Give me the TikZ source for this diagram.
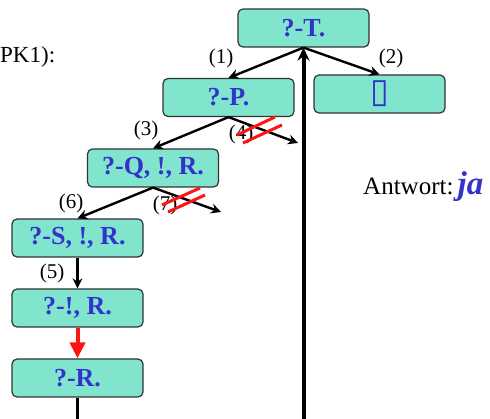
\documentclass[tikz,border=0pt]{standalone}
\usepackage{fontspec}
\setmainfont{Liberation Serif}
\newfontfamily\boxsym{DejaVu Sans}
\usetikzlibrary{arrows.meta}
\definecolor{goalfill}{RGB}{128,229,204}
\definecolor{goalblue}{RGB}{51,51,204}
\definecolor{cutred}{RGB}{255,20,20}
\tikzset{
  goal/.style={draw=black!80, line width=1.2pt, fill=goalfill, rounded corners=5pt,
    minimum width=131pt, minimum height=38pt, inner sep=0pt,
    text=goalblue, font=\fontsize{26}{28}\selectfont\bfseries},
  lbl/.style={font=\fontsize{21}{22}\selectfont},
  arr/.style={line width=2.4pt, -{Stealth[length=10pt,width=10pt]}},
  cut/.style={cutred, line width=3pt}
}
\begin{document}
\begin{tikzpicture}[x=1pt,y=-1pt]
    \useasboundingbox (0,0) rectangle (490,419);
    \clip (0,0) rectangle (490,419);
    % Heading and answer
    \node[anchor=west, font=\fontsize{23}{24}\selectfont, inner sep=0pt] (head) at (0,57) {PK1):};
    \node[anchor=base west, inner sep=0pt] (answer) at (363,195)
      {\fontsize{25}{26}\selectfont Antwort:\,\textcolor{goalblue}{\fontsize{33}{34}\selectfont\bfseries\itshape ja}};
    % Goals
    \node[goal] (t) at (303.5,28) {?-T.};
    \node[goal] (p) at (228.5,97.5) {?-P.};
    \node[goal] (empty) at (379.5,94) {\boxsym\bfseries\fontsize{34}{34}\selectfont ▯};
    \node[goal] (q) at (153,168) {?-Q, !, R.};
    \node[goal] (s) at (77.5,238) {?-S, !, R.};
    \node[goal] (cr) at (77.5,308) {?-!, R.};
    \node[goal] (r) at (77.5,378) {?-R.};
    % Free ends
    \coordinate (c4) at (298,143);
    \coordinate (c7) at (221,212);
    \coordinate (rdown) at (77.5,430);
    \coordinate (tup) at (303.5,430);
    % Branches
    \draw[arr] (t.south) -- (p.north);
    \draw[arr] (t.south) -- (empty.north);
    \draw[arr] (p.south) -- (q.north);
    \draw[arr] (p.south) -- (c4);
    \draw[arr] (q.south) -- (s.north);
    \draw[arr] (q.south) -- (c7);
    \draw[arr] (s.south) -- (cr.north);
    \draw[cutred, line width=4pt, -{Triangle[length=16pt,width=15pt]}] (cr.south) -- (r.north);
    \draw[line width=3pt] (r.south) -- (rdown);
    \draw[line width=4pt, -{Stealth[length=13pt,width=12pt]}] (tup) -- (t.south);
    % Labels
    \node[lbl] (l1) at (221,58) {(1)};
    \node[lbl] (l2) at (391,58) {(2)};
    \node[lbl] (l3) at (146,130) {(3)};
    \node[lbl] (l4) at (241,134) {(4)};
    \node[lbl] (l6) at (71,203) {(6)};
    \node[lbl] (l7) at (165,205) {(7)};
    \node[lbl] (l5) at (52,273) {(5)};
    % Cuts
    \draw[cut] (237,135) -- (275,117); \draw[cut] (243,143) -- (282,125);
    \draw[cut] (162,205) -- (200,188); \draw[cut] (168,212) -- (205,195);
\end{tikzpicture}
\end{document}
